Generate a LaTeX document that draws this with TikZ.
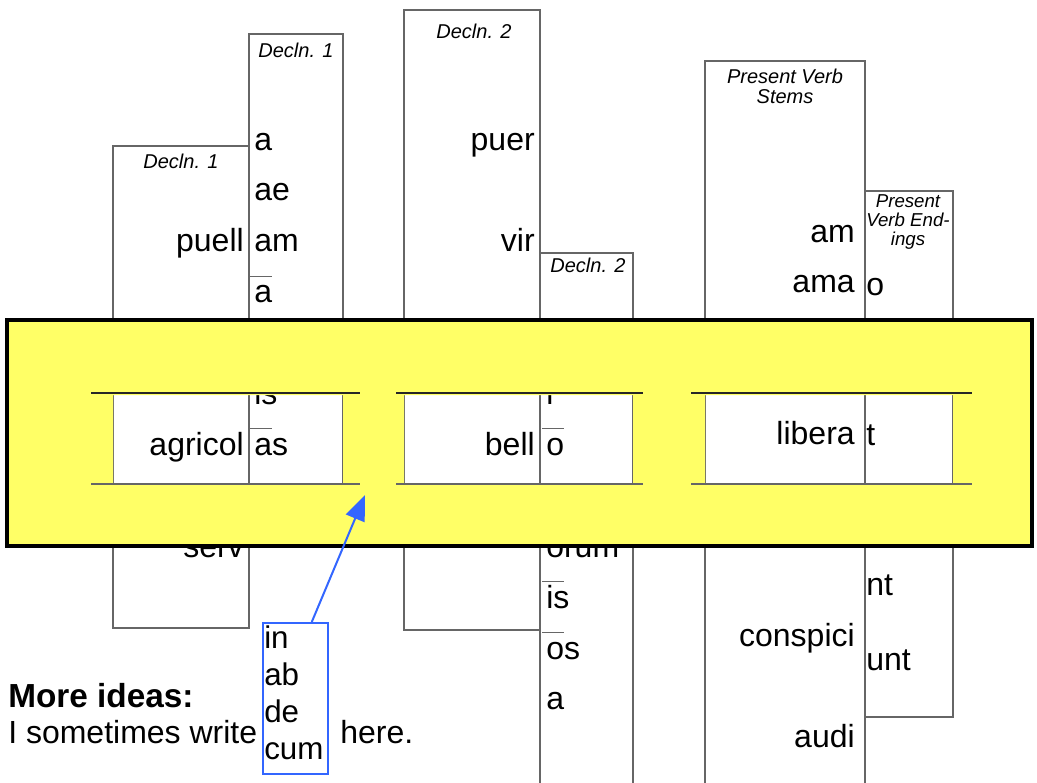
\documentclass[tikz,border=0pt]{standalone}
\usepackage{fontspec}
\setmainfont{Liberation Sans}
\usetikzlibrary{arrows.meta}

\definecolor{stripGray}{RGB}{102,102,102}
\definecolor{coverYellow}{RGB}{255,255,102}
\definecolor{noteBlue}{RGB}{51,102,255}

\newcommand{\wordfont}{\fontsize{24}{28}\selectfont}
% long mark drawn over the first letter of an ending
\newcommand{\mac}[1]{\makebox[0pt][l]{\hspace{-3pt}\textcolor{stripGray}{\rule[19.5pt]{16.5pt}{0.8pt}}}#1}

\tikzset{
  strip/.style={draw=stripGray, line width=1.5pt, fill=white},
  stem/.style={anchor=base east, inner sep=0pt, font=\wordfont},
  ending/.style={anchor=base west, inner sep=0pt, font=\wordfont},
  heading/.style={anchor=base, inner sep=0pt, align=center, font=\itshape\fontsize{15}{15}\selectfont},
}

\begin{document}
\begin{tikzpicture}[x=0.75pt,y=-0.75pt]
\clip (0,0) rectangle (1037,782);
% noun strips
\draw[strip] (113,146) rectangle (249,628);
\draw[strip] (249,34) rectangle (343,540);
\draw[strip] (404,10) rectangle (540,630);
\draw[strip] (540,253) rectangle (633,800);
% verb strips
\draw[strip] (705,61) rectangle (865,800);
\draw[strip] (865,191) rectangle (953,717);

\node[heading] (h1) at (181,168) {Decln. 1};
\node[heading] (h2) at (296,57) {Decln. 1};
\node[heading] (h3) at (474,38) {Decln. 2};
\node[heading] (h4) at (588,272) {Decln. 2};
\node[heading, font=\itshape\fontsize{15}{15}\selectfont] (h5) at (785,103) {Present Verb\\Stems};
\node[heading, font=\itshape\fontsize{14}{13.9}\selectfont] (h6) at (908,245) {Present\\Verb End-\\ings};

\foreach \w/\k in {puell/2, agricol/6, serv/8}
  \node[stem] (s1-\k) at (244,{150+50.9*\k}) {\w};
\foreach \w/\k in {a/0, ae/1, am/2, \mac{a}/3, is/5, \mac{a}s/6}
  \node[ending] (e1-\k) at (254,{150+50.9*\k}) {\w};
\foreach \w/\k in {puer/0, vir/2, bell/6}
  \node[stem] (s2-\k) at (535,{150+50.9*\k}) {\w};
\foreach \w/\k in {\mac{i}/5, \mac{o}/6, \mac{o}rum/8, \mac{i}s/9, \mac{o}s/10, a/11}
  \node[ending] (e2-\k) at (546,{150+50.9*\k}) {\w};
\foreach \w/\k in {am/0, ama/1, libera/4, conspici/8, audi/10}
  \node[stem] (vs-\k) at (855,{242+50.5*\k}) {\w};
\foreach \w/\k in {o/0, t/2, nt/4, unt/5}
  \node[ending] (ve-\k) at (866,{295+75*\k}) {\w};

% yellow cover with three windows
\fill[coverYellow, even odd rule] (7,320) rectangle (1032,546)
  (113,395) rectangle (343,484) (404,395) rectangle (633,484) (705,395) rectangle (953,484);
\draw[line width=2.5pt] (7,320) rectangle (1032,546);
\foreach \a/\b in {91/360, 396/643, 691/972} {
  \draw[line width=1pt, black!85] (\a,393) -- (\b,393);
  \draw[line width=1.2pt, stripGray] (\a,484) -- (\b,484);
}

% note
\node[anchor=base west, inner sep=0pt, font=\bfseries\fontsize{25}{30}\selectfont] (more) at (8,707) {More ideas:};
\node[anchor=base west, inner sep=0pt, font=\wordfont] (write) at (8,743) {I sometimes write};
\node[anchor=base west, inner sep=0pt, font=\wordfont] (here) at (340,743) {here.};
\node[draw=noteBlue, line width=1.5pt, minimum width=48.75pt, minimum height=113.25pt,
  anchor=north west, inner sep=0pt] (preps) at (262,622) {};
\node[anchor=north west, inner sep=0pt, align=left, font=\fontsize{23.5}{27.75}\selectfont]
  (prepwords) at (264,626) {in\\ab\\de\\cum};
\coordinate (gap) at (365,495);
\draw[noteBlue, line width=1.5pt, -{Triangle[length=19pt,width=15pt]}] (preps.78) -- (gap);
\end{tikzpicture}
\end{document}
